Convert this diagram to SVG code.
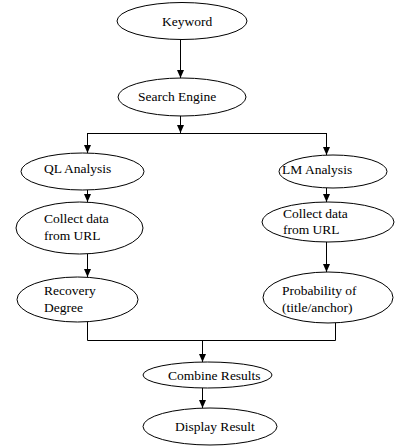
<svg xmlns="http://www.w3.org/2000/svg" width="395" height="447" viewBox="0 0 395 447" font-family="'Liberation Serif', 'Times New Roman', 'DejaVu Serif', serif">
<defs>
<style>
.n ellipse{fill:#fff;stroke:#000;stroke-width:1}
text{font-family:'Liberation Serif','Times New Roman','DejaVu Serif',serif;font-size:13.5px;fill:#000}
.c{fill:none;stroke:#000;stroke-width:1}
</style>
<marker id="a" viewBox="0 0 8 8" refX="8" refY="4" markerWidth="8" markerHeight="8" markerUnits="userSpaceOnUse" orient="auto"><path d="M0,0.5 L8,4 L0,7.5 Z" fill="#000"/></marker>
</defs>
<rect width="395" height="447" fill="#fff"/>
<g id="connectors">
<path class="c" d="M180.5,40 V78" marker-end="url(#a)"/>
<path class="c" d="M180.5,116 V133" marker-end="url(#a)"/>
<path class="c" d="M87.5,133.5 H326.5"/>
<path class="c" d="M87.5,133 V153" marker-end="url(#a)"/>
<path class="c" d="M326.5,133 V155" marker-end="url(#a)"/>
<path class="c" d="M87.5,190 V202" marker-end="url(#a)"/>
<path class="c" d="M326.5,188 V202" marker-end="url(#a)"/>
<path class="c" d="M87.5,254 V277" marker-end="url(#a)"/>
<path class="c" d="M326.5,242 V272" marker-end="url(#a)"/>
<path class="c" d="M87.5,322 V340.5 H335.5 V323"/>
<path class="c" d="M202.5,340 V362" marker-end="url(#a)"/>
<path class="c" d="M202.5,388 V408" marker-end="url(#a)"/>
</g>
<g id="keyword" class="n"><ellipse cx="182" cy="21" rx="65" ry="18.5"/><text x="162" y="26">Keyword</text></g>
<g id="search-engine" class="n"><ellipse cx="182" cy="97" rx="64" ry="19"/><text x="138" y="101">Search Engine</text></g>
<g id="ql-analysis" class="n"><ellipse cx="82.5" cy="171.5" rx="61.5" ry="18.5"/><text x="44" y="173">QL Analysis</text></g>
<g id="collect-left" class="n"><ellipse cx="79.5" cy="228" rx="63.5" ry="26"/><text x="44" y="223">Collect data</text><text x="44" y="240">from URL</text></g>
<g id="recovery" class="n"><ellipse cx="77.5" cy="299.5" rx="60.5" ry="22.5"/><text x="44" y="295">Recovery</text><text x="44" y="312">Degree</text></g>
<g id="lm-analysis" class="n"><ellipse cx="333" cy="171.5" rx="54" ry="16.5"/><text x="282" y="174">LM Analysis</text></g>
<g id="collect-right" class="n"><ellipse cx="328" cy="222" rx="66" ry="20"/><text x="283" y="218">Collect data</text><text x="283" y="234">from URL</text></g>
<g id="probability" class="n"><ellipse cx="328" cy="297.5" rx="65" ry="25.5"/><text x="282" y="295">Probability of</text><text x="282" y="312">(title/anchor)</text></g>
<g id="combine" class="n"><ellipse cx="207.5" cy="375" rx="64.5" ry="13"/><text x="168" y="380">Combine Results</text></g>
<g id="display" class="n"><ellipse cx="210" cy="426.5" rx="67" ry="18.5"/><text x="175" y="431">Display Result</text></g>
</svg>
